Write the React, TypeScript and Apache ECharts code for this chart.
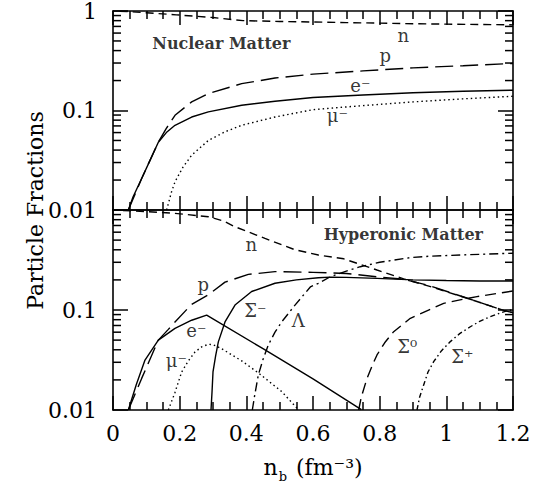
import React, { useEffect, useRef } from "react";
import * as echarts from "echarts";

const FONT = '"DejaVu Serif", serif';
const INK = "#000";

// ---- Nuclear matter (n, p, e-, mu-) ----
const nucNeutronX = [0.02, 0.05, 0.1, 0.19, 0.3, 0.39, 0.5, 0.6, 0.7, 0.8, 0.9, 1.0, 1.1, 1.2];
const nucNeutron = [0.995, 0.985, 0.96, 0.915, 0.86, 0.8, 0.785, 0.775, 0.765, 0.755, 0.745, 0.738, 0.732, 0.726];

const nucProtonX = [0.046, 0.086, 0.136, 0.16, 0.186, 0.236, 0.286, 0.386, 0.486, 0.6, 0.75, 0.9, 1.05, 1.2];
const nucProton = [0.01, 0.0207, 0.048, 0.066, 0.0895, 0.122, 0.148, 0.186, 0.212, 0.232, 0.25, 0.268, 0.282, 0.297];

const nucElectronX = [0.046, 0.06, 0.086, 0.11, 0.136, 0.16, 0.186, 0.236, 0.286, 0.386, 0.486, 0.6, 0.75, 0.9, 1.05, 1.2];
const nucElectron = [0.01, 0.0135, 0.0207, 0.031, 0.048, 0.06, 0.071, 0.086, 0.097, 0.113, 0.124, 0.135, 0.143, 0.151, 0.156, 0.16];

const nucMuonX = [0.161, 0.175, 0.186, 0.21, 0.236, 0.286, 0.336, 0.386, 0.486, 0.6, 0.75, 0.9, 1.05, 1.2];
const nucMuon = [0.01, 0.015, 0.0192, 0.027, 0.0355, 0.05, 0.061, 0.071, 0.086, 0.102, 0.112, 0.122, 0.131, 0.139];

// ---- Hyperonic matter ----
const hypNeutronX = [0.03, 0.1, 0.186, 0.286, 0.33, 0.366, 0.456, 0.546, 0.616, 0.692, 0.792, 0.872, 0.95, 1.072, 1.172, 1.2];
const hypNeutron = [0.99, 0.965, 0.926, 0.857, 0.78, 0.68, 0.52, 0.4, 0.355, 0.325, 0.251, 0.205, 0.172, 0.128, 0.099, 0.094];

const hypProtonX = [0.046, 0.086, 0.136, 0.166, 0.186, 0.236, 0.286, 0.336, 0.406, 0.486, 0.6, 0.7, 0.792, 0.872, 0.95, 1.072, 1.172, 1.2];
const hypProton = [0.01, 0.0207, 0.05, 0.064, 0.076, 0.114, 0.142, 0.19, 0.227, 0.242, 0.238, 0.232, 0.215, 0.203, 0.175, 0.128, 0.099, 0.094];

const hypElectronX = [0.046, 0.07, 0.096, 0.136, 0.186, 0.236, 0.281, 0.45, 0.6, 0.745];
const hypElectron = [0.01, 0.018, 0.0316, 0.05, 0.0656, 0.079, 0.089, 0.041, 0.0205, 0.0101];

const hypMuonX = [0.166, 0.186, 0.206, 0.226, 0.246, 0.266, 0.286, 0.3, 0.326, 0.386, 0.436, 0.506, 0.556];
const hypMuon = [0.01, 0.015, 0.024, 0.031, 0.038, 0.0428, 0.0454, 0.045, 0.041, 0.031, 0.0235, 0.0153, 0.0101];

const sigmaMinusX = [0.294, 0.297, 0.3, 0.308, 0.316, 0.336, 0.366, 0.416, 0.486, 0.55, 0.616, 0.652, 0.7, 0.792, 0.9, 1.0, 1.1, 1.2];
const sigmaMinus = [0.01, 0.015, 0.024, 0.035, 0.048, 0.076, 0.112, 0.153, 0.185, 0.2, 0.21, 0.213, 0.212, 0.207, 0.2, 0.197, 0.195, 0.195];

const lambdaX = [0.418, 0.425, 0.436, 0.45, 0.466, 0.486, 0.506, 0.546, 0.592, 0.616, 0.652, 0.7, 0.742, 0.8, 0.892, 0.95, 1.042, 1.12, 1.2];
const lambda = [0.01, 0.014, 0.0224, 0.032, 0.0447, 0.06, 0.076, 0.112, 0.17, 0.185, 0.215, 0.245, 0.271, 0.3, 0.334, 0.345, 0.355, 0.362, 0.37];

const sigmaZeroX = [0.737, 0.745, 0.762, 0.78, 0.792, 0.815, 0.842, 0.892, 0.95, 0.992, 1.05, 1.092, 1.15, 1.2];
const sigmaZero = [0.01, 0.0135, 0.0207, 0.029, 0.0355, 0.047, 0.0607, 0.0826, 0.101, 0.1166, 0.128, 0.136, 0.146, 0.155];

const sigmaPlusX = [0.912, 0.92, 0.932, 0.945, 0.962, 0.985, 1.012, 1.04, 1.072, 1.1, 1.132, 1.16, 1.182, 1.2];
const sigmaPlus = [0.01, 0.0135, 0.0178, 0.024, 0.0304, 0.039, 0.0483, 0.058, 0.068, 0.077, 0.0858, 0.093, 0.098, 0.101];

// ---- Log-axis minor tick values ----
const yMinorTicks = [0.02, 0.03, 0.04, 0.05, 0.06, 0.07, 0.08, 0.09, 0.2, 0.3, 0.4, 0.5, 0.6, 0.7, 0.8, 0.9];

// ---- Curve annotations (data coordinates) ----
const nucLabelText = ["Nuclear Matter", "n", "p", "e⁻", "μ⁻"];
const nucLabelX = [0.325, 0.871, 0.817, 0.742, 0.673];
const nucLabelY = [0.472, 0.568, 0.358, 0.179, 0.0896];

const hypLabelText = ["Hyperonic Matter", "n", "p", "Σ⁻", "Λ", "e⁻", "μ⁻", "Σ⁰", "Σ⁺"];
const hypLabelX = [0.871, 0.415, 0.271, 0.427, 0.556, 0.25, 0.19, 0.883, 1.048];
const hypLabelY = [0.575, 0.447, 0.178, 0.1, 0.0794, 0.063, 0.0316, 0.0427, 0.0339];

const zip = (xs: number[], ys: number[]) => xs.map((x, i) => [x, ys[i]]);

const DASH_N = [8, 5];
const DASH_P = [18, 7];
const DASH_S0 = [11, 6];
const DOT = [1.5, 3];
const DASHDOT_L = [9, 4, 2, 4];
const DASHDOT_SP = [5, 3, 1.5, 3];

const TICK_W = 1.5;

function curve(name: string, xs: number[], ys: number[], dash: any) {
  return {
    name,
    type: "line",
    data: zip(xs, ys),
    symbol: "none",
    showSymbol: false,
    silent: true,
    lineStyle: { color: INK, width: 1.4, type: dash },
  };
}

function labels(text: string[], xs: number[], ys: number[]) {
  return {
    type: "scatter",
    symbolSize: 0,
    silent: true,
    z: 5,
    data: text.map((t, i) => ({
      name: t,
      value: [xs[i], ys[i]],
      label: t.length > 3 ? { fontWeight: "bold", fontSize: 16 } : undefined,
    })),
    label: {
      show: true,
      position: "inside",
      formatter: "{b}",
      color: INK,
      fontFamily: FONT,
      fontSize: 18,
    },
  };
}

// Short inward ticks at 2..9 of each decade, on both sides of a panel.
function minorTicks() {
  return {
    type: "custom",
    silent: true,
    clip: false,
    z: 20,
    data: yMinorTicks.map((v) => [0, v]),
    renderItem: (params: any, api: any) => {
      const v = api.value(1);
      const p = api.coord([0, v]);
      const cs = params.coordSys;
      const left = cs.x;
      const right = cs.x + cs.width;
      const style = { stroke: INK, lineWidth: TICK_W, fill: "none" };
      return {
        type: "group",
        children: [
          { type: "line", z2: 20, shape: { x1: left, y1: p[1], x2: left + 8, y2: p[1] }, style },
          { type: "line", z2: 20, shape: { x1: right, y1: p[1], x2: right - 8, y2: p[1] }, style },
        ],
      };
    },
  };
}

function xAxis(position: string, showLabels: boolean) {
  return {
    type: "value",
    position,
    z: 20,
    min: 0,
    max: 1.2,
    interval: 0.2,
    axisLine: { show: true, onZero: false, lineStyle: { color: INK, width: 1.6 } },
    axisTick: { show: true, inside: true, length: 14, lineStyle: { color: INK, width: TICK_W, opacity: 1 } },
    minorTick: { show: true, splitNumber: 4, length: 8, lineStyle: { color: INK, width: TICK_W, opacity: 1 } },
    axisLabel: { show: showLabels, color: INK, fontFamily: FONT, fontSize: 22, margin: 12 },
    splitLine: { show: false },
    minorSplitLine: { show: false },
  };
}

function yAxis(position: string, showLabels: boolean, showMax: boolean) {
  return {
    type: "log",
    logBase: 10,
    position,
    z: 20,
    min: 0.01,
    max: 1,
    axisLine: { show: true, onZero: false, lineStyle: { color: INK, width: 1.6 } },
    axisTick: { show: true, inside: true, length: 15, lineStyle: { color: INK, width: TICK_W, opacity: 1 } },
    minorTick: { show: false },
    axisLabel: {
      show: showLabels,
      showMaxLabel: showMax,
      color: INK,
      fontFamily: FONT,
      fontSize: 22,
      margin: 16,
    },
    splitLine: { show: false },
  };
}

// One panel = one grid framed by four axes.
function panelOption(top: number, height: number, showX: boolean, showMaxY: boolean, series: any[], bg: string) {
  return {
    animation: false,
    backgroundColor: bg,
    grid: [{ left: 113, top, width: 400, height }],
    xAxis: [xAxis("bottom", showX), xAxis("top", false)],
    yAxis: [yAxis("left", true, showMaxY), yAxis("right", false, showMaxY)],
    series,
  };
}

// Axis titles, laid over both panels.
function titleOption() {
  const hidden = { axisLine: { show: false }, axisTick: { show: false }, axisLabel: { show: false }, splitLine: { show: false } };
  return {
    animation: false,
    backgroundColor: "transparent",
    grid: [{ left: 113, top: 11, width: 400, height: 399 }],
    xAxis: [
      {
        type: "value",
        min: 0,
        max: 1.2,
        ...hidden,
        name: "{a|n}{s|b}{a| (fm⁻³)}",
        nameLocation: "middle",
        nameGap: 42,
        nameTextStyle: {
          color: INK,
          rich: {
            a: { fontFamily: FONT, fontSize: 22, color: INK },
            s: { fontFamily: FONT, fontSize: 13, color: INK, verticalAlign: "bottom", padding: [18, 2, 0, 1] },
          },
        },
      },
    ],
    yAxis: [
      {
        type: "value",
        min: 0,
        max: 1,
        ...hidden,
        name: "Particle Fractions",
        nameLocation: "middle",
        nameGap: 67,
        nameTextStyle: { color: INK, fontFamily: FONT, fontSize: 22 },
      },
    ],
    series: [],
  };
}

const layer: React.CSSProperties = { position: "absolute", left: 0, top: 0, width: 542, height: 491 };

export default function App() {
  const topRef = useRef<HTMLDivElement>(null);
  const bottomRef = useRef<HTMLDivElement>(null);
  const titleRef = useRef<HTMLDivElement>(null);

  useEffect(() => {
    document.body.style.margin = "0";
    if (!topRef.current || !bottomRef.current || !titleRef.current) return;

    const nuclear = echarts.init(topRef.current, null, { renderer: "svg" });
    nuclear.setOption(
      panelOption(11, 199, false, true, [
        curve("n", nucNeutronX, nucNeutron, DASH_N),
        curve("p", nucProtonX, nucProton, DASH_P),
        curve("e⁻", nucElectronX, nucElectron, "solid"),
        curve("μ⁻", nucMuonX, nucMuon, DOT),
        labels(nucLabelText, nucLabelX, nucLabelY),
        minorTicks(),
      ], "#fff")
    );

    const hyperonic = echarts.init(bottomRef.current, null, { renderer: "svg" });
    hyperonic.setOption(
      panelOption(210, 200, true, false, [
        curve("n", hypNeutronX, hypNeutron, DASH_N),
        curve("p", hypProtonX, hypProton, DASH_P),
        curve("e⁻", hypElectronX, hypElectron, "solid"),
        curve("μ⁻", hypMuonX, hypMuon, DOT),
        curve("Σ⁻", sigmaMinusX, sigmaMinus, "solid"),
        curve("Λ", lambdaX, lambda, DASHDOT_L),
        curve("Σ⁰", sigmaZeroX, sigmaZero, DASH_S0),
        curve("Σ⁺", sigmaPlusX, sigmaPlus, DASHDOT_SP),
        labels(hypLabelText, hypLabelX, hypLabelY),
        minorTicks(),
      ], "transparent")
    );

    const titles = echarts.init(titleRef.current, null, { renderer: "svg" });
    titles.setOption(titleOption());

    return () => {
      nuclear.dispose();
      hyperonic.dispose();
      titles.dispose();
    };
  }, []);

  return (
    <div style={{ position: "relative", width: 542, height: 491, background: "#fff" }}>
      <div ref={topRef} style={layer} />
      <div ref={bottomRef} style={{ ...layer, pointerEvents: "none" }} />
      <div ref={titleRef} style={{ ...layer, pointerEvents: "none" }} />
    </div>
  );
}
